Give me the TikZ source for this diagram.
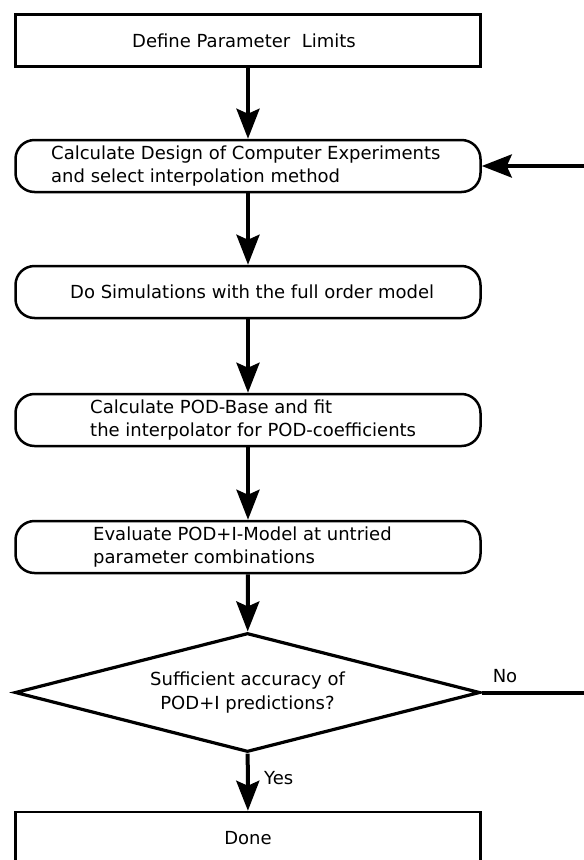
\documentclass[tikz,border=0pt]{standalone}
\usepackage{fontspec}
\setmainfont{DejaVu Sans}
\usetikzlibrary{arrows.meta,shapes.geometric}

\begin{document}
\begin{tikzpicture}[x=1pt,y=-1pt,
        every node/.style={font=\fontsize{18}{23.5}\selectfont},
        plainbox/.style={draw,line width=2.5pt,minimum width=465pt,minimum height=52pt},
        roundbox/.style={plainbox,rounded corners=19pt},
        decision/.style={draw,diamond,line width=3.2pt,aspect=3.9,inner sep=0pt,
            minimum width=465pt,minimum height=119pt,align=center},
        boxtext/.style={anchor=west,align=left,inner sep=0pt}]
        \useasboundingbox (0,0) rectangle (584,860);
        \clip (0,0) rectangle (584,860);
        \node[plainbox] (define) at (248,40.5) {};
        \node[roundbox] (design) at (248,166) {};
        \node[roundbox] (simulate) at (248,292) {};
        \node[roundbox] (podbase) at (248,420) {};
        \node[roundbox] (evaluate) at (248,547) {};
        \node[decision] (check) at (247.5,692.5) {Sufficient accuracy of\\ POD+I predictions?};
        \node[plainbox] (done) at (248,838) {Done};
        \node[inner sep=0pt] (define-text) at (244,40.5) {Define Parameter\ \ Limits};
        \node[boxtext] (design-text) at (51,166) {Calculate Design of Computer Experiments\\and select interpolation method};
        \node[boxtext] (simulate-text) at (70,292) {Do Simulations with the full order model};
        \node[boxtext] (podbase-text) at (90,420) {Calculate POD-Base and fit\\the interpolator for POD-coefficients};
        \node[boxtext] (evaluate-text) at (93,547) {Evaluate POD+I-Model at untried\\parameter combinations};
        \coordinate (backin) at (584,166);
        \coordinate (noout) at (584,692.5);
        \begin{scope}[line width=4pt,-{Stealth[length=30pt,width=23pt,inset=5pt]}]
            \draw (define) -- (design);
            \draw (design) -- (simulate);
            \draw (simulate) -- (podbase);
            \draw (podbase) -- (evaluate);
            \draw (evaluate) -- (check);
            \draw (check) -- (done);
            \draw (backin) -- (design);
        \end{scope}
        \draw[line width=4pt] (check) -- (noout);
        \node[anchor=west,inner sep=0pt] (yes) at (264,778) {Yes};
        \node[inner sep=0pt] (no) at (505,676) {No};
\end{tikzpicture}
\end{document}
